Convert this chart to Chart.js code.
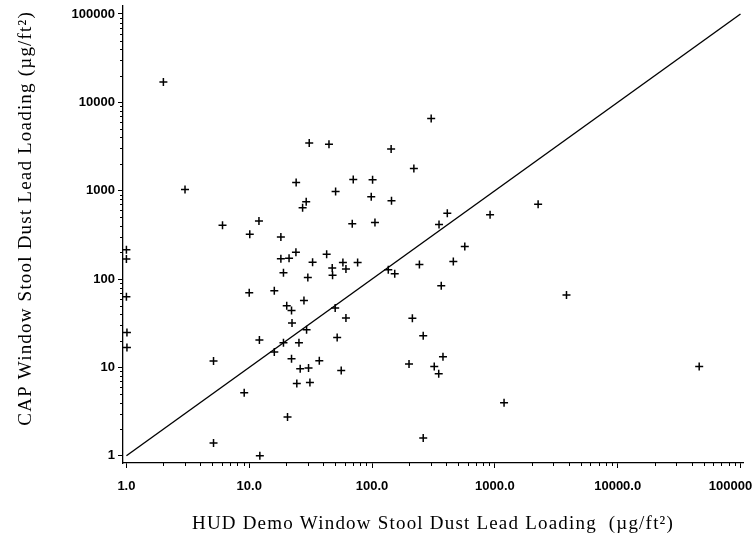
<!DOCTYPE html>
<html>
<head>
<meta charset="utf-8">
<script src="https://cdn.jsdelivr.net/npm/chart.js@4.4.1/dist/chart.umd.min.js"></script>
<style>
html,body{margin:0;padding:0;background:#fff;}
#wrap{width:755px;height:537px;position:relative;}
</style>
</head>
<body>
<div id="wrap"><canvas id="c" width="755" height="537"></canvas></div>
<script>
// HUD Demo window stool dust lead loading (x) and CAP loading (y), µg/ft²
const hudX = [2, 3, 30.8, 44.6, 143, 219, 303, 24.1, 70.3, 101, 50.5, 98.5, 144, 29.1, 27.2, 6.06, 12.0, 10.1, 18.1, 69,
  105.6, 410, 351, 914, 2250, 1, 1, 1, 1.01, 1.01, 24, 18.1, 21.1, 42.7, 32.8, 76.3, 57.9, 47.4, 61.3, 47.7,
  19, 30, 135.6, 153, 243, 10, 16, 27.9, 20.2, 22.1, 50.1, 22.3, 61.3, 213, 29.3, 52, 261, 12.1, 19, 25.4,
  16, 5.12, 22.1, 37.2, 26, 30.4, 56.1, 200, 24.4, 31.2, 9.1, 20.5, 5.12, 12.2, 261, 569, 459, 366, 321, 378,
  349, 1188, 3830, 46100];
const capY = [17000, 1030, 3470, 3360, 2970, 1780, 6550, 1236, 1336, 1325, 977, 851, 767, 747, 639, 407, 452, 322, 298, 421,
  435, 556, 414, 532, 703, 214, 168, 63, 24.8, 16.8, 201, 169, 172, 191, 155, 154, 154, 133, 130, 110,
  118, 104, 127, 115, 146, 70, 73.5, 57, 49.8, 44, 46.9, 31.7, 36.1, 36, 26.6, 21.8, 22.8, 20.4, 19, 19,
  14.9, 11.8, 12.5, 11.9, 9.64, 9.82, 9.2, 10.9, 6.58, 6.75, 5.16, 2.74, 1.39, 1.0, 1.59, 233, 158, 83.8, 10.2, 13.2,
  8.47, 3.98, 65.8, 10.2];
// line of equality
const equalityLine = [1, 100000];
// tick values and labels
const decades = [1, 10, 100, 1000, 10000, 100000];
const xTickLabels = ['1.0', '10.0', '100.0', '1000.0', '10000.0', '100000'];
const yTickLabels = ['1', '10', '100', '1000', '10000', '100000'];
const xTitle = 'HUD Demo Window Stool Dust Lead Loading  (\u00b5g/ft\u00b2)';
const yTitle = 'CAP Window Stool Dust Lead Loading (\u00b5g/ft\u00b2)';

const points = hudX.map((x, i) => ({x: x, y: capY[i]}));
const linePts = equalityLine.map(v => ({x: v, y: v}));

const minorTicks = {
  id: 'minorTicks',
  afterDraw(chart) {
    const ctx = chart.ctx, xs = chart.scales.x, ys = chart.scales.y;
    ctx.save();
    ctx.strokeStyle = '#000';
    ctx.lineWidth = 1;
    ctx.beginPath();
    for (let d = 0; d < decades.length - 1; d++) {
      for (let m = 2; m <= 9; m++) {
        const v = m * decades[d];
        const px = Math.round(xs.getPixelForValue(v)) + 0.5;
        ctx.moveTo(px, xs.top);
        ctx.lineTo(px, xs.top + 3);
        const py = Math.round(ys.getPixelForValue(v)) + 0.5;
        ctx.moveTo(ys.right, py);
        ctx.lineTo(ys.right - 3, py);
      }
    }
    ctx.stroke();
    ctx.restore();
  }
};

// wider letter spacing for the axis titles (scanned original looks stretched)
function spacedTitle(s, dy) {
  if (s._spacedTitle) return;
  const orig = s.drawTitle;
  s.drawTitle = function () {
    const ctx = this.ctx;
    ctx.save();
    ctx.letterSpacing = '1.2px';
    ctx.translate(0, dy);
    orig.apply(this, arguments);
    ctx.restore();
  };
  s._spacedTitle = true;
}

// keep the last x label inside the canvas, as in the original
function shiftLastLabel(s) {
  if (s._shiftLast) return;
  const orig = s._computeLabelItems;
  s._computeLabelItems = function () {
    const items = orig.apply(this, arguments);
    if (items.length) {
      const last = items[items.length - 1];
      last.options.translation = [last.options.translation[0] - 10, last.options.translation[1]];
    }
    return items;
  };
  s._shiftLast = true;
}

const tickFont = {family: "'Liberation Sans', Arial, sans-serif", size: 13, weight: 'bold'};
const titleFont = {family: "'Liberation Serif', 'Times New Roman', serif", size: 19, weight: 'normal'};

new Chart(document.getElementById('c'), {
  data: {
    datasets: [
      {
        type: 'scatter',
        data: points,
        pointStyle: 'cross',
        pointRadius: 4,
        pointBorderWidth: 1.5,
        borderColor: '#000',
        backgroundColor: '#000',
        pointHoverRadius: 4
      },
      {
        type: 'line',
        data: linePts,
        borderColor: '#000',
        borderWidth: 1.4,
        pointRadius: 0,
        fill: false,
        tension: 0
      }
    ]
  },
  options: {
    responsive: false,
    animation: false,
    events: [],
    layout: {padding: {left: 0, top: 6, right: 12, bottom: 0}},
    plugins: {legend: {display: false}, tooltip: {enabled: false}},
    scales: {
      x: {
        type: 'logarithmic',
        position: 'bottom',
        min: 0.938,
        max: 104800,
        afterBuildTicks: s => { s.ticks = decades.map(v => ({value: v})); },
        afterFit: s => { s.height = 74; s.paddingLeft = 0; s.paddingRight = 0; spacedTitle(s, 0); shiftLastLabel(s); },
        ticks: {
          autoSkip: false, maxRotation: 0, minRotation: 0,
          color: '#000', font: tickFont, padding: 11,
          callback: (v, i) => xTickLabels[i]
        },
        grid: {display: true, drawOnChartArea: false, drawTicks: true, tickLength: 5, tickColor: '#000', tickWidth: 1},
        border: {display: true, color: '#000', width: 1.3},
        title: {display: true, text: xTitle, color: '#000', font: titleFont, padding: {top: 0, bottom: 2}}
      },
      y: {
        type: 'logarithmic',
        position: 'left',
        min: 0.827,
        max: 123000,
        afterBuildTicks: s => { s.ticks = decades.map(v => ({value: v})); },
        afterFit: s => { s.width = 123; s.paddingTop = 0; s.paddingBottom = 0; spacedTitle(s, 5); },
        ticks: {
          autoSkip: false, color: '#000', font: tickFont, padding: 3,
          callback: (v, i) => yTickLabels[i]
        },
        grid: {display: true, drawOnChartArea: false, drawTicks: true, tickLength: 5, tickColor: '#000', tickWidth: 1},
        border: {display: true, color: '#000', width: 1.3},
        title: {display: true, text: yTitle, color: '#000', font: titleFont, align: 'end', padding: {top: 15, bottom: 0}}
      }
    }
  },
  plugins: [minorTicks]
});
</script>
</body>
</html>
